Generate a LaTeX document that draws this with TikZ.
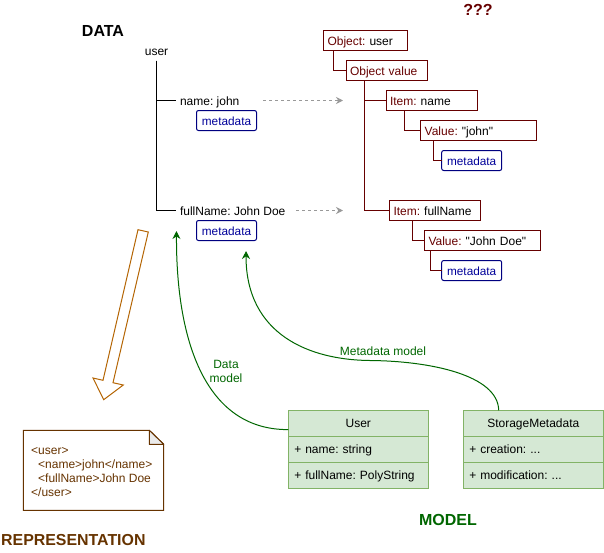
\documentclass[tikz,border=0pt]{standalone}
\usepackage{fontspec}
\setmainfont{Liberation Sans}
\newfontfamily\plainf{Liberation Sans}
\usetikzlibrary{arrows.meta,calc}
\definecolor{dred}{HTML}{660000}
\definecolor{dblue}{HTML}{000080}
\definecolor{tblue}{HTML}{000099}
\definecolor{dgreen}{HTML}{006600}
\definecolor{brn}{HTML}{663300}
\definecolor{orng}{HTML}{B46504}
\definecolor{umlf}{HTML}{D5E8D4}
\definecolor{umls}{HTML}{82B366}
\newcommand{\lab}[1]{\textcolor{dred}{#1}}
\tikzset{
  txt/.style={font=\fontsize{12}{14}\selectfont\frenchspacing,inner xsep=4pt,inner ysep=0pt,outer sep=0pt,text height=9pt,text depth=0pt},
  title/.style={font=\fontsize{16}{18}\selectfont\bfseries,inner sep=0pt},
  rbox/.style={txt,draw=dred,line width=1pt,minimum height=20pt,text width=#1-8pt,anchor=north west},
  mbox/.style={txt,font=\fontsize{11.8}{14}\selectfont,draw=dblue,text=tblue,line width=1pt,rounded corners=2pt,minimum width=60pt,minimum height=20pt,align=center,anchor=north west},
  umlrow/.style={txt,draw=umls,fill=umlf,line width=1pt,minimum height=26pt,inner xsep=6pt,text width=128pt,anchor=north west},
  umltitle/.style={umlrow,align=center},
  rtree/.style={draw=dred,line width=1pt},
  btree/.style={draw=black,line width=1pt},
  dashgo/.style={draw=black!40,line width=1pt,dash pattern=on 3pt off 3pt,-{Stealth[length=7pt,width=7pt]}},
  gcurve/.style={draw=dgreen,line width=1pt,-{Stealth[length=8pt,width=8pt]}},
  glabel/.style={font=\fontsize{12}{14}\selectfont,text=dgreen,inner sep=0pt,align=center}
}
\begin{document}
\begin{tikzpicture}[x=1pt,y=-1pt]
\useasboundingbox (0,0) rectangle (604,552);
% titles
\node[title] (tdata) at (103,31) {DATA};
\node[title,text=dred] (tq) at (478,10) {???};
\node[title,text=brn,anchor=west,font=\fontsize{15.9}{18}\selectfont\bfseries] (trep) at (1,540) {REPRESENTATION};
\node[title,text=dgreen] (tmodel) at (448,520) {MODEL};
% data tree
\node[txt,anchor=south,inner ysep=5.5pt] (user) at (156.5,60.5) {user};
\node[txt,anchor=west] (nm) at (176,100.5) {name: john};
\node[txt,anchor=west] (fn) at (176,210.5) {fullName: John Doe};
\node[mbox] (m1) at (196.5,110.5) {metadata};
\node[mbox] (m2) at (196.5,220.5) {metadata};
\draw[btree] (user.south) |- (nm.west);
\draw[btree] (user.south) |- (fn.west);
% red tree
\node[rbox=84pt] (ou) at (323.5,30.5) {\lab{Object:} user};
\node[rbox=81pt] (ov) at (346,60.5) {\lab{Object value}};
\node[rbox=91pt] (in) at (386,90.5) {\lab{Item:} name};
\node[rbox=116pt] (vj) at (420.7,120.5) {\lab{Value:} {\plainf "john"}};
\node[mbox] (m3) at (441.7,150.5) {metadata};
\node[rbox=91pt] (if) at (389.5,200.5) {\lab{Item:} fullName};
\node[rbox=116pt] (vd) at (424.5,230.5) {\lab{Value:} {\plainf "John Doe"}};
\node[mbox] (m4) at (441.7,260.5) {metadata};
\draw[rtree] ($(ou.south west)+(9.5,0)$) |- (ov.west);
\draw[rtree] ($(ov.south west)+(18.5,0)$) |- (in.west);
\draw[rtree] ($(ov.south west)+(18.5,0)$) |- (if.west);
\draw[rtree] ($(in.south west)+(18.7,0)$) |- (vj.west);
\draw[rtree] ($(vj.south west)+(13,0)$) |- (m3.west);
\draw[rtree] ($(if.south west)+(22.8,0)$) |- (vd.west);
\draw[rtree] ($(vd.south west)+(6.2,0)$) |- (m4.west);
% dashed
\coordinate (d1s) at (263,100.5);
\coordinate (d1e) at (343,100.5);
\coordinate (d2s) at (296,210.5);
\coordinate (d2e) at (343,210.5);
\draw[dashgo] (d1s) -- (d1e);
\draw[dashgo] (d2s) -- (d2e);
% big arrow
\draw[draw=orng,line width=1pt,line join=miter] (138,229.7) -- (148.3,232) -- (113,382.7) -- (123.3,385) -- (103.7,399.7) -- (93,378) -- (103,380.3) -- cycle;
% note
\draw[draw=brn,fill=white,line width=1pt] (23.3,430.3) -- (149.3,430.3) -- (163.7,444.3) -- (163.7,510.3) -- (23.3,510.3) -- cycle;
\draw[draw=brn,fill=black!8,line width=1pt,line join=round] (149.3,430.3) -- (149.3,444.3) -- (163.7,444.3) -- cycle;
\node[font=\fontsize{12}{14}\selectfont,text=brn,align=left,anchor=north west,inner sep=0pt] (xml) at (31,447) {<user>\\\hspace{7pt}<name>john</name>\\\hspace{7pt}<fullName>John Doe\\</user>};
% UML
\node[umltitle] (ut) at (288.3,410.3) {User};
\node[umlrow] (u1) at (288.3,436.3) {+ name: string};
\node[umlrow] (u2) at (288.3,462.3) {+ fullName: PolyString};
\node[umltitle] (st) at (463.3,410.3) {StorageMetadata};
\node[umlrow] (s1) at (463.3,436.3) {+ creation: ...};
\node[umlrow] (s2) at (463.3,462.3) {+ modification: ...};
% green curves
\coordinate (ga) at (176.5,231);
\coordinate (gb) at (246,251);
\coordinate (gc) at (370,360.5);
\draw[gcurve] ($(ut.west)+(0,6.3)$) .. controls (205,430) and (176,340) .. (ga);
\draw[gcurve] ($(st.north west)+(35.4,0)$) .. controls (498,375) and (430,361) .. (gc) .. controls (310,360) and (246,335) .. (gb);
\node[glabel] (ldm) at (226,371) {Data\\model};
\node[glabel] (lmm) at (383,351) {Metadata model};
\end{tikzpicture}
\end{document}
